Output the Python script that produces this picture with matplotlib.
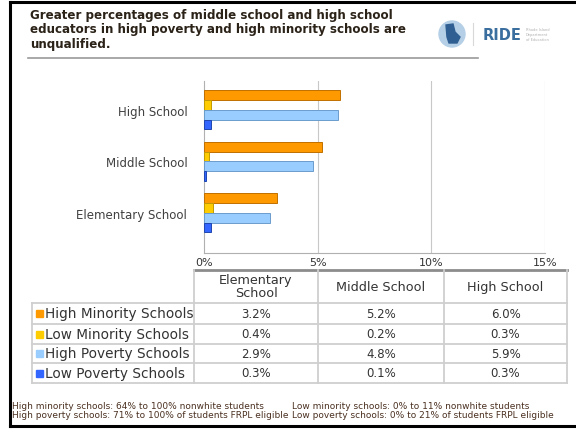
import numpy as np
import matplotlib.pyplot as plt
from matplotlib.patches import Rectangle, Circle, Polygon

# data
levels = ["Elementary School", "Middle School", "High School"]
table_headers = ["Elementary\nSchool", "Middle School", "High School"]
groups = ["High Minority Schools", "Low Minority Schools",
          "High Poverty Schools", "Low Poverty Schools"]
high_minority = [3.2, 5.2, 6.0]
low_minority = [0.4, 0.2, 0.3]
high_poverty = [2.9, 4.8, 5.9]
low_poverty = [0.3, 0.1, 0.3]
x_ticks = [0, 5, 10, 15]

title = ("Greater percentages of middle school and high school\n"
         "educators in high poverty and high minority schools are\n"
         "unqualified.")
notes_left = ["High minority schools: 64% to 100% nonwhite students",
              "High poverty schools: 71% to 100% of students FRPL eligible"]
notes_right = ["Low minority schools: 0% to 11% nonwhite students",
               "Low poverty schools: 0% to 21% of students FRPL eligible"]

colors = ["#FF9900", "#FFCC00", "#99CCFF", "#3366FF"]
edges = ["#C07000", "#C09A00", "#6A9CCC", "#1F45B0"]
series = [high_minority, low_minority, high_poverty, low_poverty]

W, H = 576, 431
fig = plt.figure(figsize=(W / 100, H / 100), dpi=100)

# background / frame axes in pixel coordinates
bg = fig.add_axes([0, 0, 1, 1])
bg.set_xlim(0, W)
bg.set_ylim(H, 0)
bg.axis("off")

# black frame (top, left, bottom)
bg.plot([10, W], [3, 3], color="black", lw=2.2)
bg.plot([10, 10], [3, 427], color="black", lw=2.2)
bg.plot([10, W], [427, 427], color="black", lw=2.2)

# title
bg.text(30, 9, title, fontsize=8.6, fontweight="bold", color="#2b2218",
        va="top", ha="left", linespacing=1.15)
bg.plot([28, 478], [59, 59], color="#9a9a9a", lw=1.2)

# logo
bg.add_patch(Circle((452, 35), 13, color="#B4CFE6", zorder=2))
bg.add_patch(Polygon([(446, 26), (453, 25), (455, 33), (460, 38), (457, 44),
                      (449, 44), (447, 38)], closed=True, color="#2F5E92",
                     zorder=3))
bg.plot([473, 473], [24, 46], color="#d8d8d8", lw=0.8)
bg.text(483, 35, "RIDE", fontsize=10.5, fontweight="bold", color="#3A6E9E",
        va="center", ha="left")
bg.text(526, 35, "Rhode Island\nDepartment\nof Education", fontsize=2.6,
        color="#b0b0b0", va="center", ha="left", linespacing=1.3)

# bar chart
ax = fig.add_axes([204 / W, 1 - 254 / H, (545 - 204) / W, (254 - 82) / H])
ax.patch.set_alpha(0)
y = np.arange(len(levels))
step = 0.19
offsets = [1.5, 0.5, -0.5, -1.5]
for vals, off, c, e in zip(series, offsets, colors, edges):
    ax.barh(y + off * step, vals, height=0.19, color=c, edgecolor=e,
            linewidth=0.7, zorder=3)
ax.set_xlim(0, 15)
ax.set_ylim(-0.78, 2.56)
ax.set_xticks(x_ticks)
ax.set_xticklabels([f"{t}%" for t in x_ticks], fontsize=8, color="#333333")
ax.set_yticks(y)
ax.set_yticklabels(levels, fontsize=8.5, color="#404040")
ax.tick_params(length=0, pad=12)
ax.tick_params(axis="x", pad=3)
for t in x_ticks[1:]:
    ax.axvline(t, color="#c8c8c8", lw=0.8, zorder=1)
for s in ["top", "right"]:
    ax.spines[s].set_visible(False)
ax.spines["left"].set_color("#b0b0b0")
ax.spines["bottom"].set_color("#b0b0b0")

# data table
col_x = [194, 318, 444, 567]
row_y = [304, 325, 345, 364, 384]
grid_c = "#cfcfcf"
bg.plot([col_x[0], col_x[-1]], [271, 271], color="#8c8c8c", lw=2)
for cx in col_x:
    bg.plot([cx, cx], [271, row_y[-1]], color=grid_c, lw=1.3)
bg.plot([32, 32], [row_y[0], row_y[-1]], color=grid_c, lw=1.3)
for ry in row_y:
    bg.plot([32, col_x[-1]], [ry, ry], color=grid_c, lw=1.3)

for j, hdr in enumerate(table_headers):
    cx = (col_x[j] + col_x[j + 1]) / 2
    bg.text(cx, (271 + row_y[0]) / 2, hdr, fontsize=9.2, color="#333333",
            ha="center", va="center", linespacing=1.0)

for i, (name, vals) in enumerate(zip(groups, series)):
    cy = (row_y[i] + row_y[i + 1]) / 2
    bg.add_patch(Rectangle((36, cy - 3.5), 7, 7, color=colors[i]))
    bg.text(45, cy, name, fontsize=9.8, color="#333333", ha="left",
            va="center")
    for j, v in enumerate(vals):
        cx = (col_x[j] + col_x[j + 1]) / 2
        bg.text(cx, cy, f"{v:.1f}%", fontsize=8.5, color="#333333",
                ha="center", va="center")

# footnotes
for k in range(2):
    bg.text(12, 407 + k * 9, notes_left[k], fontsize=6.5, color="#4a3020",
            ha="left", va="center")
    bg.text(292, 407 + k * 9, notes_right[k], fontsize=6.5, color="#4a3020",
            ha="left", va="center")

fig.savefig("out.png", dpi=100)
